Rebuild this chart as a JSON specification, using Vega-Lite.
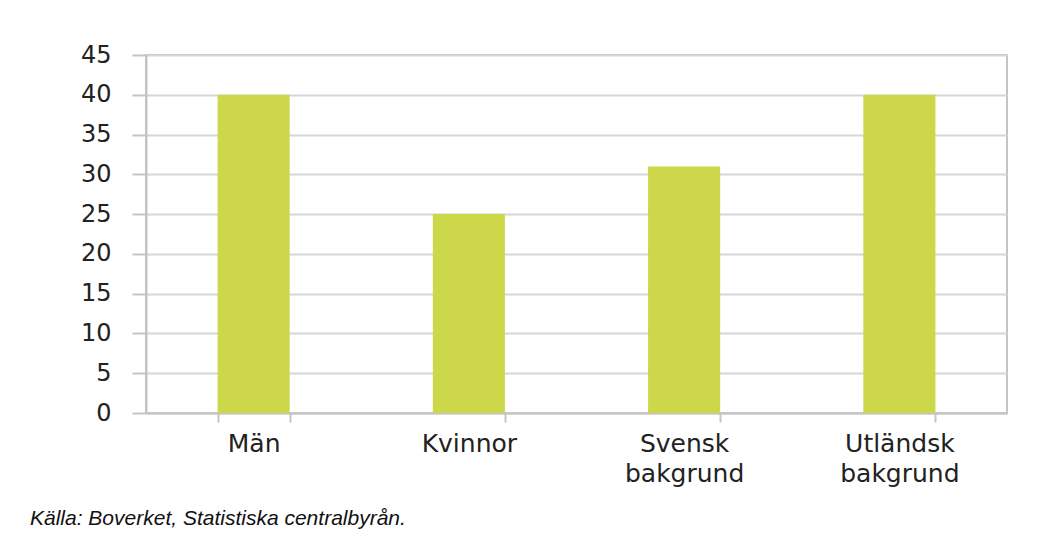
{
  "$schema": "https://vega.github.io/schema/vega-lite/v6.json",
  "autosize": "none",
  "width": 861,
  "height": 358,
  "padding": {"left": 146, "top": 55, "right": 51, "bottom": 130},
  "background": "white",
  "data": {
    "values": [
      {"grupp": "Män", "andel": 40},
      {"grupp": "Kvinnor", "andel": 25},
      {"grupp": "Svensk bakgrund", "andel": 31},
      {"grupp": "Utländsk bakgrund", "andel": 40}
    ]
  },
  "title": {
    "text": "Källa: Boverket, Statistiska centralbyrån.",
    "orient": "bottom",
    "anchor": "start",
    "frame": "group",
    "dx": -116,
    "offset": 22,
    "font": "Liberation Sans",
    "fontSize": 21,
    "fontStyle": "italic",
    "fontWeight": "normal",
    "color": "#111111"
  },
  "mark": {"type": "bar", "color": "#cdd74a"},
  "encoding": {
    "x": {
      "field": "grupp",
      "type": "nominal",
      "sort": null,
      "scale": {"paddingInner": 0.665, "paddingOuter": 0.3325},
      "axis": {
        "title": null,
        "labelAngle": 0,
        "labelExpr": "split(datum.label, ' ')",
        "labelFont": "DejaVu Sans",
        "labelFontSize": 25,
        "labelLineHeight": 30,
        "labelColor": "#222222",
        "labelPadding": 9,
        "tickBand": "extent",
        "tickSize": 9,
        "tickColor": "#c4c4c4",
        "tickWidth": 2,
        "domainColor": "#c4c4c4",
        "domainWidth": 2
      }
    },
    "y": {
      "field": "andel",
      "type": "quantitative",
      "scale": {"domain": [0, 45], "nice": false},
      "axis": {
        "title": null,
        "values": [0, 5, 10, 15, 20, 25, 30, 35, 40, 45],
        "labelFont": "DejaVu Sans",
        "labelFontSize": 24,
        "labelColor": "#222222",
        "labelPadding": 21,
        "tickSize": 14,
        "tickColor": "#c4c4c4",
        "tickWidth": 2,
        "domainColor": "#c4c4c4",
        "domainWidth": 2,
        "gridColor": "#d6d6d6",
        "gridWidth": 2
      }
    }
  },
  "config": {
    "view": {"stroke": "#c4c4c4", "strokeWidth": 2}
  }
}
